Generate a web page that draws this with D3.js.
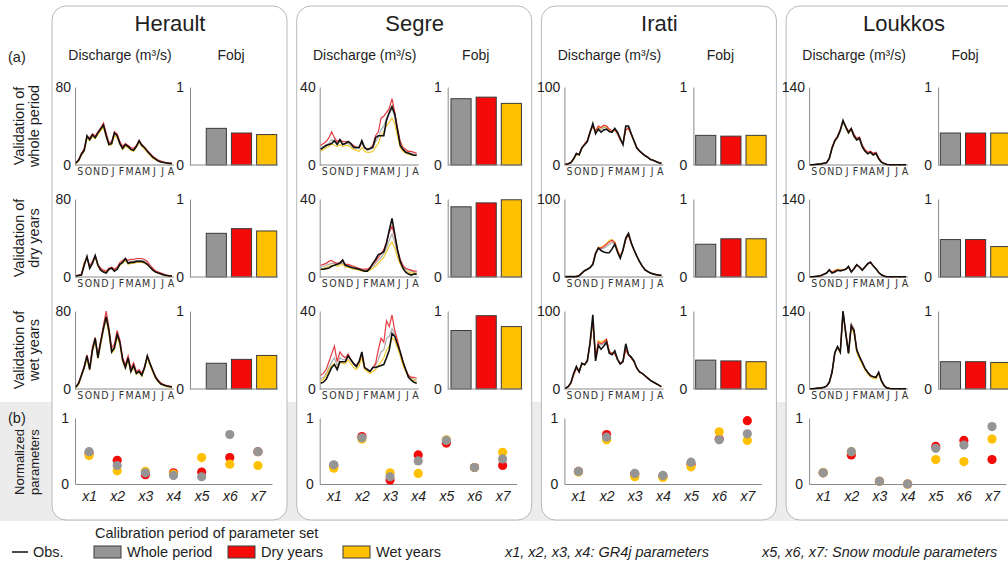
<!DOCTYPE html>
<html>
<head>
<meta charset="utf-8">
<script src="https://cdn.jsdelivr.net/npm/d3@7"></script>
<style>
  body { margin: 0; background: #fff; }
  svg { font-family: "Liberation Sans", Arial, sans-serif; }
</style>
</head>
<body>
<svg id="fig" width="1008" height="567"></svg>
<script>
// ---- data ----
var basins = ["Herault", "Segre", "Irati", "Loukkos"];
var months = ["S", "O", "N", "D", "J", "F", "M", "A", "M", "J", "J", "A"];
var periods = ["Whole period", "Dry years", "Wet years"];
var rowTitles = [["Validation of", "whole period"], ["Validation of", "dry years"], ["Validation of", "wet years"]];
var qMax = [80, 40, 100, 140];
var paramNames = ["x1", "x2", "x3", "x4", "x5", "x6", "x7"];

// discharge, 36 ten-day steps Sep..Aug : [obs, whole, dry, wet]
var heraultWhole = [
    [2,5,11,15,30,26,31,28,33,37,41,30,21,22,33,30,22,17,21,19,16,15,19,25,20,18,14,11,8,6,4,3,2.5,2,1.5,1.5],
    [2,5,12,16,28,27,31,29,33,37,42,31,22,23,32,30,23,18,21,19,17,16,19,24,20,17,14,11,8,6,4.5,3.5,3,2.5,2,2],
    [2,6,12,17,29,28,32,30,34,38,43,33,23,24,34,32,24,19,22,20,18,17,20,25,21,18,15,12,9,7,5,4,3,2.5,2,2],
    [1.5,4,10,14,27,25,29,27,31,35,39,29,20,21,30,28,21,16,19,18,15,14,18,23,19,16,13,10,7,5.5,4,3,2.5,2,1.5,1.5]
];
var heraultDry = [
    [1,1.5,2,12,21,9,14,22,12,7,5,4,8,9,6,8,13,15,19,14,15,15,16,16,16,15,13,10,7,5,4,3,2,1.5,1,1],
    [1.5,2,3,13,20,10,15,21,12,8,6,5,8,9,7,9,13,15,18,15,16,16,17,17,17,16,14,11,8,6,4.5,3.5,2.5,2,1.5,1.5],
    [1.5,2,3,14,20,11,16,22,13,9,7,6,9,10,8,10,15,17,19,17,18,18,19,19,19,18,16,12,9,6,5,4,3,2,1.5,1.5],
    [1,1.5,2.5,15,19,10,15,20,11,7,5.5,5,8,9,7,8,12,14,17,13,14,14,15,15,15,14,13,10,7,5,4,3,2,1.5,1,1]
];
var heraultWet = [
    [2,6,14,22,34,20,40,52,32,48,62,74,60,38,42,56,48,30,22,32,18,24,16,18,14,22,34,26,19,12,8,5,4,3,2.5,2],
    [2,6,14,23,33,21,41,51,33,48,63,76,59,40,43,55,47,30,23,31,19,24,17,18,15,22,33,25,18,12,8,5.5,4,3,2.5,2],
    [2,7,15,24,35,22,43,53,35,50,65,80,63,42,46,60,50,32,25,34,21,27,18,20,16,23,34,26,19,13,9,6,4.5,3.5,3,2.5],
    [1.5,5,13,21,31,19,38,49,31,45,60,72,56,37,40,53,45,28,21,29,17,22,15,17,13,21,32,24,17,11,7,5,3.5,2.5,2,1.5]
];
var segreWhole = [
    [8,9,10,10.5,11,12.5,10.5,13,10.5,11,12,11,9,9,9,12.5,9,8,8.5,9,14,15,15,15,23,27,30,26,18,10,8,6.5,6,5.5,5,5],
    [9,9.5,10.5,11,13,12,11,12,11,11,11,10,9,8.5,8.5,11,8.5,7.5,8,9,12,14,18,20,24,26,29,25,17,10,8,7,6.5,6,5.5,5.5],
    [10,11,12,14,17,14,12,13,12,12,12,11,10,9,9,12,9,8,8.5,10,15,17,24,25,27,29,34,27,19,12,9,8,7,7,6.5,6],
    [7,8,9,9.5,11,10,9.5,10.5,9.5,10,10,9,8,7.5,7,9,7,6.5,6.5,7,9,11,15,17,20,22,24,21,15,9,7,6,5.5,5,5,5]
];
var segreDry = [
    [4,4,4.3,4.6,5.5,6,6.5,7,8.7,6,5.5,5,4.6,4.3,4,3.5,3,3,4.5,7,9,11.5,12,13,17.5,24,30,22,14,8,4.5,2.5,1.5,1,1.5,1.5],
    [5,5.5,6,6.5,7,7,6.5,7,7,6,6,5.5,5,4.5,4,3.5,3.5,3.5,4.5,5.5,7,8.5,10,12,15,19,22,18,12,8,5,4,3.5,3,2.5,2.5],
    [6,6.5,7,8,8.5,7.5,7,7.5,8,6.5,6.5,6,5.5,5,4.5,4,4,4,5,6.5,8,10,12,14,18,23,26,21,14,9,6,4.5,4,3.5,3,3],
    [4,4.5,5,5.5,6,6,5.5,6,6.5,5,5,4.5,4,4,3.5,3,3,3,3.5,4.5,5.5,7,8.5,10,13,16,18,15,10,6.5,4,3,2.5,2,2,2]
];
var segreWet = [
    [3,3.5,5,8,11,12.5,10,14,14,14,17,15,13,11.5,14,19,11,10,9,11,11,11.5,12,12.5,16,20,28.5,27,23,19,14,10,6,4.5,3.5,3],
    [5,6,8,11,14,16,12,16,15,15,17,15,13,12,14,18,11,10,9,11,12,15,19,20,26,27,31,28,23,18,13,9,6.5,5.5,5,4.5],
    [7,8,10,14,18,22,14,19,17,16,18,15,13,12,14,18,11,10,9,11,13,20,26,24,35,32,38,30,25,19,14,10,7,6,6,5.5],
    [4,5,7,10,12,13,10,14,13,13,15,13,11,10,12,16,10,9,8,9,10,12,14,16,20,22,26,25,21,17,12,9,6,5,4.5,4]
];
var iratiWhole = [
    [1,1.5,3,8,15,13,22,26,30,42,53,40,46,42,45,46,43,42,47,42,34,26,50,50,40,31,22,18,15,12,10,7,6,4.5,3,2],
    [1,1.5,3,8,14,13,21,26,31,42,51,42,48,45,48,48,44,43,46,41,33,27,47,49,40,31,22,18,15,12,10,7,6,4.5,3,2],
    [1,1.5,3,8,14,14,22,27,32,43,50,44,50,48,51,50,46,44,45,40,32,28,45,47,39,31,23,18,15,12,10,7.5,6,4.5,3.5,2.5],
    [1,1.5,3,7.5,13,13,21,26,31,42,49,43,49,47,50,49,45,43,45,40,32,27,45,47,39,30,22,18,15,12,10,7,6,4.5,3,2]
];
var iratiDry = [
    [0.5,0.5,0.5,0.5,0.5,1.5,5,8,10,12,16,30,37,34,32,31,31,36,42,32,24,35,50,56,44,35,27,20,14,9,7,5,4,3,2.5,2],
    [0.5,0.5,0.5,0.5,1,2,5,8,10,12,16,30,37,36,37,39,42,44,43,33,25,34,49,55,44,35,27,20,14,9.5,7,5,4,3,2.5,2],
    [0.5,0.5,0.5,0.5,1,2,5,8,10,12,17,31,37,37,39,42,45,47,44,34,26,34,48,54,43,35,27,20,14,10,7,5,4,3,2.5,2],
    [0.5,0.5,0.5,0.5,1,2,5,8,10,12,17,31,38,38,40,43,47,48,45,35,27,34,48,54,43,35,27,20,14,10,7,5,4,3,2.5,2]
];
var iratiWet = [
    [1,3,8,20,29,22,33,31,36,60,95,36,56,51,55,60,46,44,49,38,32,35,58,44,41,36,27,22,20,17,14,11,9,7,5,3],
    [1,3,7.5,19,28,22,32,31,36,58,90,38,58,56,58,62,47,45,47,38,32,35,54,44,40,35,27,22,20,17,14,11,9,7,5,3],
    [1,3,7,18,27,22,32,31,37,58,88,40,60,58,60,64,48,46,45,38,33,36,50,44,40,35,27,22,20,17,14,11,9,7,5,3],
    [1,2.5,7,18,27,22,32,31,37,57,86,40,62,60,62,63,48,46,46,38,33,36,50,44,40,35,27,22,20,17,14,11,9,7,5,3]
];
var loukkosWhole = [
    [0.5,0.5,1,1.5,2,3,4,12,30,43,50,62,80,68,58,65,52,45,48,33,25,20,23,18,21,11,5,2.5,1,0.5,0.5,0.5,0.5,0.5,0.5,0.5],
    [0.5,0.5,1,1.5,2,3,4,12,31,44,50,63,79,68,58,64,52,46,47,33,25,21,23,19,21,12,5,2.5,1,0.5,0.5,0.5,0.5,0.5,0.5,0.5],
    [0.5,0.5,1,1.5,2,3,4,12,32,45,52,64,78,70,60,66,55,48,50,36,28,23,25,21,23,13,6,3,1,0.5,0.5,0.5,0.5,0.5,0.5,0.5],
    [0.5,0.5,1,1.5,2,3,4,12,30,43,50,62,78,67,57,64,51,45,47,33,25,20,22,18,20,11,5,2.5,1,0.5,0.5,0.5,0.5,0.5,0.5,0.5]
];
var loukkosDry = [
    [0.5,0.5,1,1.5,2.5,5,7,13,7,9,12,11,12,14,19,9,15,22,18,12,18,24,27,20,15,8,4,1.5,0.5,0.5,0.5,0.5,0.5,0.5,0.5,0.5],
    [0.5,0.5,1,1.5,2.5,5,7,12,8,10,12,12,13,14,18,10,15,21,18,13,18,23,26,20,15,8,4,1.5,0.5,0.5,0.5,0.5,0.5,0.5,0.5,0.5],
    [0.5,0.5,1,1.5,2.5,5,7,12,8,11,13,12,13,14,18,10,15,21,18,13,18,23,26,20,15,8,4,1.5,0.5,0.5,0.5,0.5,0.5,0.5,0.5,0.5],
    [0.5,0.5,1,1.5,2.5,5,7,12,9,12,14,13,13,14,18,10,15,21,18,13,18,23,26,20,15,8,4,1.5,0.5,0.5,0.5,0.5,0.5,0.5,0.5,0.5]
];
var loukkosWet = [
    [0.5,0.5,1,1.5,2,3,5,12,30,65,76,66,140,100,64,113,105,70,58,48,37,30,24,22,21,30,15,6,2,1,0.5,0.5,0.5,0.5,0.5,0.5],
    [0.5,0.5,1,1.5,2,3,5,12,30,64,75,67,136,102,66,118,108,72,58,48,37,30,24,22,21,29,15,6,2,1,0.5,0.5,0.5,0.5,0.5,0.5],
    [0.5,0.5,1,1.5,2,3,5,12,30,64,75,66,138,101,65,115,106,71,58,48,37,30,24,22,21,29,15,6,2,1,0.5,0.5,0.5,0.5,0.5,0.5],
    [0.5,0.5,1,1.5,2,3,5,12,29,63,74,65,136,99,63,110,100,66,54,44,34,27,22,19,18,27,13,5,2,1,0.5,0.5,0.5,0.5,0.5,0.5]
];

// Fobj per validation row: [whole, dry, wet] calibration
var fobjHerault = [[0.47, 0.41, 0.39], [0.56, 0.62, 0.59], [0.33, 0.38, 0.43]];
var fobjSegre = [[0.85, 0.87, 0.79], [0.90, 0.95, 0.99], [0.75, 0.94, 0.80]];
var fobjIrati = [[0.38, 0.37, 0.38], [0.42, 0.49, 0.49], [0.37, 0.36, 0.35]];
var fobjLoukkos = [[0.41, 0.41, 0.41], [0.48, 0.48, 0.39], [0.35, 0.35, 0.34]];

// normalized parameters x1..x7 per calibration period: [whole, dry, wet]
var paramHerault = [[0.49, 0.28, 0.17, 0.13, 0.11, 0.75, 0.49], [0.47, 0.36, 0.14, 0.17, 0.18, 0.40, 0.49], [0.43, 0.20, 0.19, 0.15, 0.40, 0.30, 0.28]];
var paramSegre = [[0.29, 0.70, 0.11, 0.35, 0.66, 0.25, 0.38], [0.28, 0.72, 0.06, 0.44, 0.62, 0.25, 0.28], [0.24, 0.68, 0.17, 0.16, 0.67, 0.25, 0.48]];
var paramIrati = [[0.19, 0.71, 0.16, 0.13, 0.33, 0.67, 0.76], [0.19, 0.75, 0.15, 0.12, 0.30, 0.68, 0.96], [0.18, 0.67, 0.11, 0.10, 0.26, 0.79, 0.66]];
var paramLoukkos = [[0.17, 0.49, 0.04, 0.0, 0.54, 0.59, 0.87], [0.17, 0.44, 0.04, 0.0, 0.57, 0.66, 0.37], [0.17, 0.49, 0.04, 0.0, 0.37, 0.34, 0.68]];

var discharge = [
    [heraultWhole, heraultDry, heraultWet],
    [segreWhole, segreDry, segreWet],
    [iratiWhole, iratiDry, iratiWet],
    [loukkosWhole, loukkosDry, loukkosWet]
];
var fobj = [fobjHerault, fobjSegre, fobjIrati, fobjLoukkos];
var paramSets = [paramHerault, paramSegre, paramIrati, paramLoukkos];

// ---- style / layout ----
var fillColors = ["#959595", "#f50a0a", "#ffc000"];
var lineColors = ["#a3a3a3", "#e3262b", "#f2c318"];
var textColor = "#1e1e1e";
var axisColor = "#8a8a8a";

var svg = d3.select("#fig");
var rowTop = [87, 199, 311];
var rowH = 78;
var fobjAxisOff = [138, 151, 152, 152];
var pTop = 418, pBottom = 484;

function panelX(b) { return 52 + 244.7 * b; }

function styleAxis(g, size) {
    g.attr("font-family", null).attr("font-size", null);
    g.select(".domain").attr("stroke", axisColor).attr("stroke-width", 1);
    g.selectAll("text").attr("fill", textColor).style("font-size", size + "px");
}

// band behind row (b)
svg.append("rect")
    .attr("x", 0).attr("y", 402).attr("width", 1008).attr("height", 119)
    .attr("fill", "#ececec");

basins.forEach(function(name, b) {
    var px = panelX(b);
    var g = svg.append("g");

    g.append("rect")
        .attr("x", px).attr("y", 6).attr("width", 235).attr("height", 514)
        .attr("rx", 14).attr("fill", "#fff").attr("stroke", "#b8b8b8");

    g.append("text").attr("x", px + 118).attr("y", 31).attr("text-anchor", "middle")
        .attr("fill", textColor).style("font-size", "22px").text(name);
    g.append("text").attr("x", px + 68).attr("y", 60).attr("text-anchor", "middle")
        .attr("fill", textColor).style("font-size", "14px").text("Discharge (m\u00b3/s)");
    g.append("text").attr("x", px + 179).attr("y", 60).attr("text-anchor", "middle")
        .attr("fill", textColor).style("font-size", "14px").text("Fobj");

    rowTop.forEach(function(top, r) {
        var ax = px + 23;
        var series = discharge[b][r];
        var x = d3.scaleLinear().domain([0, series[0].length - 1]).range([ax + 1, ax + 97]);
        var y = d3.scaleLinear().domain([0, qMax[b]]).range([top + rowH, top]);
        var mx = d3.scaleBand().domain(d3.range(12)).range([ax + 1, ax + 100]);

        var gy = g.append("g").attr("transform", "translate(" + ax + ",0)")
            .call(d3.axisLeft(y).tickValues([0, qMax[b]]).tickSize(0).tickPadding(4));
        styleAxis(gy, 14);
        var gx = g.append("g").attr("transform", "translate(0," + (top + rowH) + ")")
            .call(d3.axisBottom(mx).tickSize(0).tickPadding(3).tickFormat(function(i) { return months[i]; }));
        styleAxis(gx, 10.5);
        gx.select(".domain").attr("d", "M" + ax + ",0H" + (ax + 99));
        gx.selectAll("text").style("font-family", "'DejaVu Sans Condensed', 'DejaVu Sans', sans-serif").attr("fill", "#333");

        var line = d3.line().x(function(d, i) { return x(i); }).y(function(d) { return y(d); });
        [1, 3, 2].forEach(function(k) {
            g.append("path").datum(series[k]).attr("d", line).attr("fill", "none")
                .attr("stroke", lineColors[k - 1]).attr("stroke-width", 1.2).attr("stroke-opacity", 0.9);
        });
        g.append("path").datum(series[0]).attr("d", line).attr("fill", "none")
            .attr("stroke", "#111").attr("stroke-width", 1.6);

        // Fobj bars
        var bx = px + fobjAxisOff[b];
        var yb = d3.scaleLinear().domain([0, 1]).range([top + rowH, top]);
        var xb = d3.scaleBand().domain([0, 1, 2]).range([px + 153, px + 226]).paddingInner(0.2).paddingOuter(0.05);
        g.selectAll(null).data(fobj[b][r]).enter().append("rect")
            .attr("x", function(d, i) { return xb(i); })
            .attr("y", function(d) { return yb(d); })
            .attr("width", xb.bandwidth())
            .attr("height", function(d) { return yb(0) - yb(d); })
            .attr("fill", function(d, i) { return fillColors[i]; })
            .attr("stroke", "#3a3a3a").attr("stroke-width", 1);
        var gb = g.append("g").attr("transform", "translate(" + bx + ",0)")
            .call(d3.axisLeft(yb).tickValues([0, 1]).tickFormat(d3.format("d")).tickSize(0).tickPadding(6));
        styleAxis(gb, 14);
        g.append("line").attr("x1", bx).attr("x2", px + 226)
            .attr("y1", yb(0)).attr("y2", yb(0)).attr("stroke", axisColor);
    });

    // (b) normalized parameters
    var xp = d3.scalePoint().domain(paramNames).range([px + 23, px + 220]).padding(0.5);
    var yp = d3.scaleLinear().domain([0, 1]).range([pBottom, pTop]);
    var gpy = g.append("g").attr("transform", "translate(" + (px + 23) + ",0)")
        .call(d3.axisLeft(yp).tickValues([0, 1]).tickFormat(d3.format("d")).tickSize(0).tickPadding(6));
    styleAxis(gpy, 14);
    var gpx = g.append("g").attr("transform", "translate(0," + pBottom + ")")
        .call(d3.axisBottom(xp).tickSize(0).tickPadding(7));
    styleAxis(gpx, 14);
    gpx.selectAll("text").style("font-style", "italic");

    [1, 2, 0].forEach(function(k) {
        g.selectAll(null).data(paramSets[b][k]).enter().append("circle")
            .attr("cx", function(d, i) { return xp(paramNames[i]); })
            .attr("cy", function(d) { return yp(d); })
            .attr("r", 4.6)
            .attr("fill", fillColors[k]);
    });
});

// row labels
function vLabel(lines, cy, size) {
    lines.forEach(function(t, i) {
        svg.append("text")
            .attr("transform", "translate(" + (24 + i * 15) + "," + cy + ") rotate(-90)")
            .attr("text-anchor", "middle").attr("fill", textColor)
            .style("font-size", size + "px").text(t);
    });
}
rowTop.forEach(function(top, r) { vLabel(rowTitles[r], top + rowH / 2, 14.5); });
vLabel(["Normalized", "parameters"], 462, 13);

svg.append("text").attr("x", 8).attr("y", 62).attr("fill", textColor).style("font-size", "14.5px").text("(a)");
svg.append("text").attr("x", 8).attr("y", 423).attr("fill", textColor).style("font-size", "14.5px").text("(b)");

// legend
var leg = svg.append("g").style("font-size", "14.5px").attr("fill", textColor);
leg.append("text").attr("x", 95).attr("y", 538).text("Calibration period of parameter set");
leg.append("line").attr("x1", 12).attr("x2", 28).attr("y1", 552).attr("y2", 552)
    .attr("stroke", "#111").attr("stroke-width", 1.5);
leg.append("text").attr("x", 33).attr("y", 557).text("Obs.");
var legX = [94, 228, 343];
periods.forEach(function(p, i) {
    leg.append("rect").attr("x", legX[i]).attr("y", 546).attr("width", 27).attr("height", 12)
        .attr("fill", fillColors[i]).attr("stroke", "#3a3a3a");
    leg.append("text").attr("x", legX[i] + 33).attr("y", 557).text(p);
});
leg.append("text").attr("x", 505).attr("y", 557).style("font-style", "italic")
    .text("x1, x2, x3, x4: GR4j parameters");
leg.append("text").attr("x", 762).attr("y", 557).style("font-style", "italic")
    .text("x5, x6, x7: Snow module parameters");
</script>
</body>
</html>
